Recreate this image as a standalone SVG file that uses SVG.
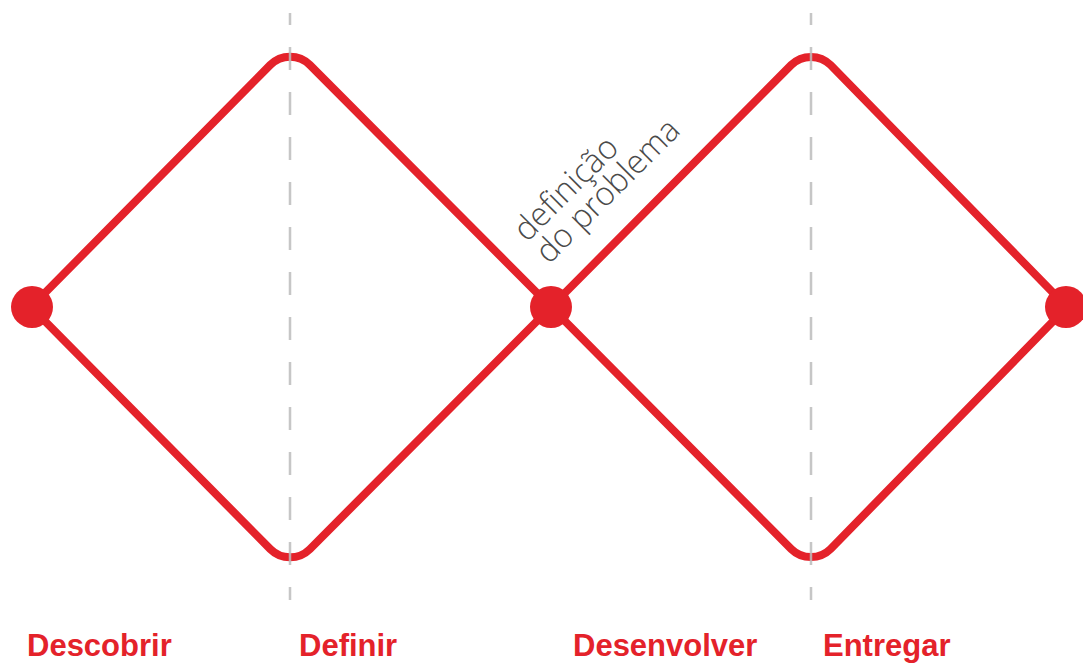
<svg xmlns="http://www.w3.org/2000/svg" width="1083" height="664" viewBox="0 0 1083 664">
  <style>
    .diamond { fill: none; stroke: #e4222a; stroke-width: 8; stroke-linejoin: miter; }
    .dot { fill: #e4222a; }
    .guide { stroke: #bdbdbd; stroke-width: 2.5; stroke-dasharray: 23 22; stroke-dashoffset: 11; opacity: 0.85; }
    .phase { font-family: "Liberation Sans", Arial, sans-serif; font-weight: bold; font-size: 31px; fill: #e4222a; }
    .note { font-family: "Open Sans", "Liberation Sans", sans-serif; font-weight: 300; font-size: 33px; fill: #4a4a4a; font-variant-ligatures: none; }
  </style>
  <rect width="1083" height="664" fill="#ffffff"/>
  <g id="connectors">
    <path class="diamond" d="M 31 307 L 270.3 64.9 A 28 28 0 0 1 309.8 64.8 L 551 307 L 309.8 549.2 A 28 28 0 0 1 270.3 549.1 Z"/>
    <path class="diamond" d="M 551 307 L 791.3 64.9 A 28 28 0 0 1 830.6 65 L 1067 307 L 830.6 549 A 28 28 0 0 1 791.3 549.1 Z"/>
  </g>
  <g id="guides">
    <line class="guide" x1="290" y1="13" x2="290" y2="600"/>
    <line class="guide" x1="811" y1="13" x2="811" y2="600"/>
  </g>
  <g id="node-start"><circle class="dot" cx="32" cy="307" r="21"/></g>
  <g id="node-mid"><circle class="dot" cx="551" cy="307" r="21"/></g>
  <g id="node-end"><circle class="dot" cx="1066" cy="307" r="21"/></g>
  <g id="annotation" transform="translate(527,243) rotate(-45)">
    <text class="note" x="0" y="0" textLength="132" lengthAdjust="spacingAndGlyphs">definição</text>
    <text class="note" x="0" y="31" textLength="188" lengthAdjust="spacingAndGlyphs">do problema</text>
  </g>
  <g id="label-descobrir"><text class="phase" x="27" y="656">Descobrir</text></g>
  <g id="label-definir"><text class="phase" x="299" y="656">Definir</text></g>
  <g id="label-desenvolver"><text class="phase" x="573" y="656">Desenvolver</text></g>
  <g id="label-entregar"><text class="phase" x="823" y="656">Entregar</text></g>
</svg>
